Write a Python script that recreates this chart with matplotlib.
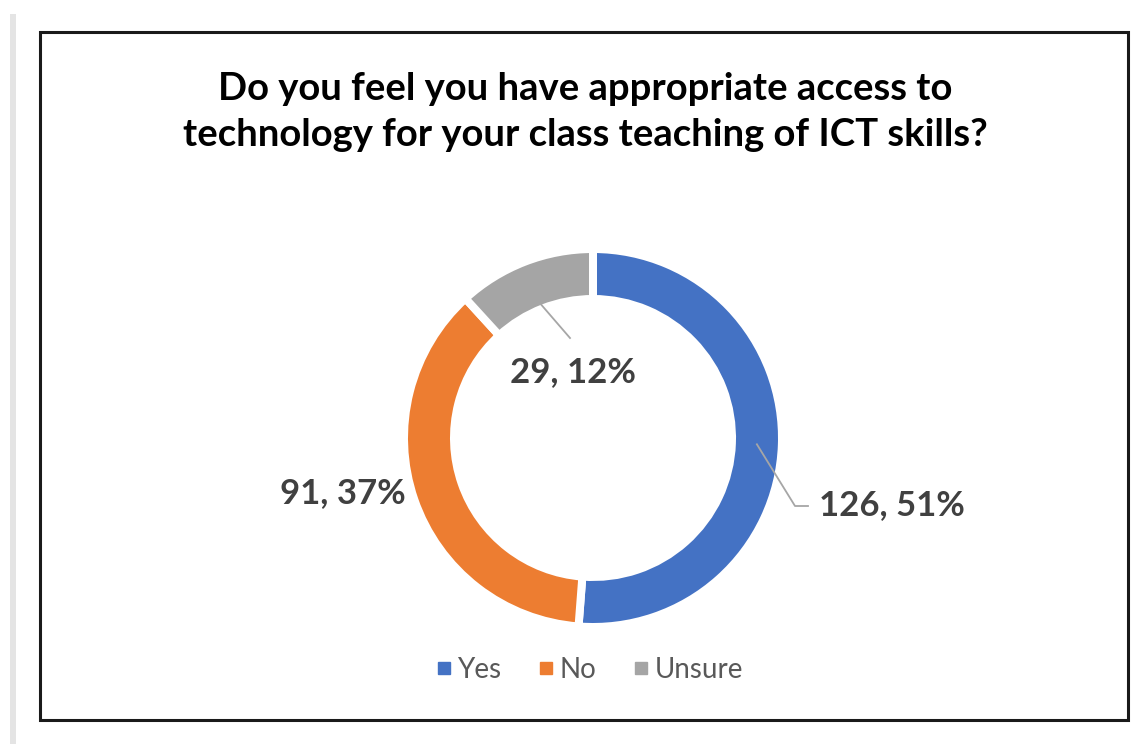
import numpy as np
import matplotlib
matplotlib.use("Agg")
import matplotlib.pyplot as plt
from matplotlib.patches import Rectangle
from matplotlib.lines import Line2D

# Survey responses
categories = ["Yes", "No", "Unsure"]
counts = [126, 91, 29]
colors = ["#4472C4", "#ED7D31", "#A5A5A5"]
title = "Do you feel you have appropriate access to\ntechnology for your class teaching of ICT skills?"

W, H = 1137, 744
fig = plt.figure(figsize=(W / 100, H / 100), dpi=100)
fig.patch.set_facecolor("white")

# page frame: soft shadow strip on the left and the chart border
bg = fig.add_axes([0, 0, 1, 1])
bg.set_xlim(0, W)
bg.set_ylim(H, 0)
bg.axis("off")
bg.add_patch(Rectangle((10, 14), 6, 730, facecolor="#e4e4e4", edgecolor="none"))
bg.add_patch(Rectangle((40, 32), 1088, 688, facecolor="white", edgecolor="#1a1a1a", linewidth=2.2))

fig.text(585 / W, 1 - 112 / H, title, ha="center", va="center", fontsize=27.5,
         fontweight="bold", family="Lato", color="black", linespacing=1.42)

# donut axes: centre and outer radius in pixels
cx, cy, R = 593, 438, 185
half = 260
ax = fig.add_axes([(cx - half) / W, (H - cy - half) / H, 2 * half / W, 2 * half / H])
L = half / R

gap_px = 8
r_out = 1 + (gap_px / 2) / R
ring_w = (185 - 143 + gap_px) / R
wedges, _ = ax.pie(counts, colors=colors, startangle=90, counterclock=False,
                   radius=r_out,
                   wedgeprops=dict(width=ring_w, edgecolor="white", linewidth=gap_px * 0.72))
ax.set_xlim(-L, L)
ax.set_ylim(-L, L)
ax.set_aspect("equal")
ax.axis("off")

total = sum(counts)
labels = [f"{c}, {round(100 * c / total)}%" for c in counts]
r_mid = (185 + 143) / 2 / R
lab_kw = dict(fontsize=25, fontweight="bold", family="Lato", color="#404040")

def mid_angle(w):
    return np.deg2rad((w.theta1 + w.theta2) / 2)

# Yes: elbow leader line to the right
a = mid_angle(wedges[0])
sx, sy = r_mid * np.cos(a), r_mid * np.sin(a)
ex, ey = 202 / R, -68 / R
ax.plot([sx, ex, ex + 13 / R], [sy, ey, ey], color="#a6a6a6", lw=1.3)
ax.text(ex + 24 / R, ey + 1 / R, labels[0], ha="left", va="center", **lab_kw)

# No: label outside on the left, no leader
ax.text(-250 / R, -55 / R, labels[1], ha="center", va="center", **lab_kw)

# Unsure: short leader into the hole
a = mid_angle(wedges[2])
sx, sy = 143 / R * np.cos(a), 143 / R * np.sin(a)
ax.plot([sx, -23 / R], [sy, 100 / R], color="#a6a6a6", lw=1.3)
ax.text(-20 / R, 66 / R, labels[2], ha="center", va="center", **lab_kw)

handles = [Line2D([], [], marker="s", linestyle="none", markersize=8,
                  markerfacecolor=c, markeredgecolor=c) for c in colors]
leg = fig.legend(handles, categories, loc="center", bbox_to_anchor=(588 / W, 1 - 670 / H),
                 ncol=3, frameon=False, handletextpad=0.1, columnspacing=1.2,
                 handlelength=0.8, prop=dict(family="Lato", size=20))
for t in leg.get_texts():
    t.set_color("#595959")

fig.savefig("out.png", dpi=100, facecolor="white")
